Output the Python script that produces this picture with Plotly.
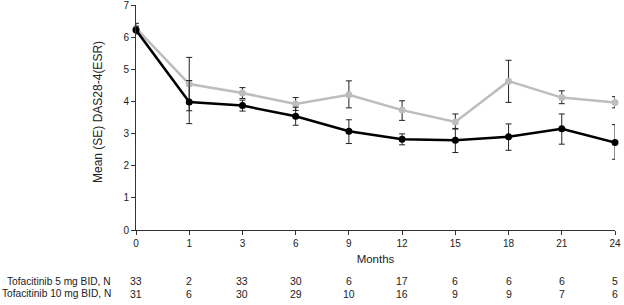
import plotly.graph_objects as go

months = ["0", "1", "3", "6", "9", "12", "15", "18", "21", "24"]
mean_5mg = [6.28, 4.54, 4.26, 3.92, 4.21, 3.73, 3.36, 4.63, 4.12, 3.97]
se_5mg_up = [0.15, 0.83, 0.17, 0.20, 0.43, 0.29, 0.25, 0.65, 0.21, 0.18]
se_5mg_dn = [0.15, 0.83, 0.17, 0.20, 0.41, 0.32, 0.20, 0.66, 0.19, 0.17]
mean_10mg = [6.22, 3.98, 3.87, 3.54, 3.07, 2.82, 2.79, 2.90, 3.15, 2.72]
se_10mg_up = [0.12, 0.67, 0.17, 0.28, 0.36, 0.17, 0.35, 0.40, 0.46, 0.56]
se_10mg_dn = [0.12, 0.67, 0.17, 0.28, 0.38, 0.17, 0.38, 0.42, 0.48, 0.52]
n_5mg = [33, 2, 33, 30, 6, 17, 6, 6, 6, 5]
n_10mg = [31, 6, 30, 29, 10, 16, 9, 9, 7, 6]
row_labels = ["Tofacitinib 5 mg BID, N", "Tofacitinib 10 mg BID, N"]
y_ticks = [0, 1, 2, 3, 4, 5, 6, 7]

xpos = list(range(len(months)))
font = "Liberation Sans, Arial, sans-serif"
W, H = 624, 305

fig = go.Figure()
fig.add_trace(go.Scatter(
    x=xpos, y=mean_5mg, mode="lines+markers",
    line=dict(color="#bdbdbd", width=2.5),
    marker=dict(color="#bdbdbd", size=7),
    error_y=dict(type="data", symmetric=False, array=se_5mg_up, arrayminus=se_5mg_dn,
                 color="#222222", thickness=1, width=3),
    cliponaxis=False, showlegend=False))
fig.add_trace(go.Scatter(
    x=xpos, y=mean_10mg, mode="lines+markers",
    line=dict(color="black", width=2.5),
    marker=dict(color="black", size=7),
    error_y=dict(type="data", symmetric=False, array=se_10mg_up, arrayminus=se_10mg_dn,
                 color="#222222", thickness=1, width=3),
    cliponaxis=False, showlegend=False))

# paper coords helper: plot area spans y from 230 (bottom) to 5 (top) in pixels
def py(pix):
    return (230 - pix) / 225.0

annotations = []
for i, (a, b) in enumerate(zip(n_5mg, n_10mg)):
    annotations.append(dict(x=xpos[i], y=py(281), xref="x", yref="paper", text=str(a),
                            showarrow=False, font=dict(size=10.5, color="#222"), yanchor="middle"))
    annotations.append(dict(x=xpos[i], y=py(293.5), xref="x", yref="paper", text=str(b),
                            showarrow=False, font=dict(size=10.5, color="#222"), yanchor="middle"))
for j, lab in enumerate(row_labels):
    annotations.append(dict(x=(113 - 136) / 479.0, y=py([281, 293.5][j]), xref="paper", yref="paper",
                            text=lab, showarrow=False, xanchor="right", yanchor="middle",
                            font=dict(size=10.2, color="#222")))
annotations.append(dict(x=(98 - 136) / 479.0, y=py(112), xref="paper", yref="paper",
                        text="Mean (SE) DAS28-4(ESR)", textangle=-90, showarrow=False,
                        xanchor="center", yanchor="middle", font=dict(size=12, color="#222")))

fig.update_layout(
    width=W, height=H,
    margin=dict(l=136, r=9, t=5, b=75, autoexpand=False),
    plot_bgcolor="white", paper_bgcolor="white",
    font=dict(family=font, size=10, color="#222"),
    annotations=annotations,
    xaxis=dict(range=[0, 9], tickvals=xpos, ticktext=months, showgrid=False, zeroline=False,
               showline=True, linecolor="#333", linewidth=1, ticks="outside", ticklen=4,
               tickcolor="#333", ticklabeloverflow="allow", automargin=False,
               title=dict(text="Months", font=dict(size=11.5), standoff=6)),
    yaxis=dict(range=[0, 7.0001], tickvals=y_ticks, showgrid=False, zeroline=False,
               showline=True, linecolor="#333", linewidth=1, ticks="outside", ticklen=4,
               tickcolor="#333", ticklabeloverflow="allow", automargin=False),
)

fig.write_html("out.html", config={"displayModeBar": False},
               post_script="document.body.style.margin='0';document.body.style.overflow='hidden';")
